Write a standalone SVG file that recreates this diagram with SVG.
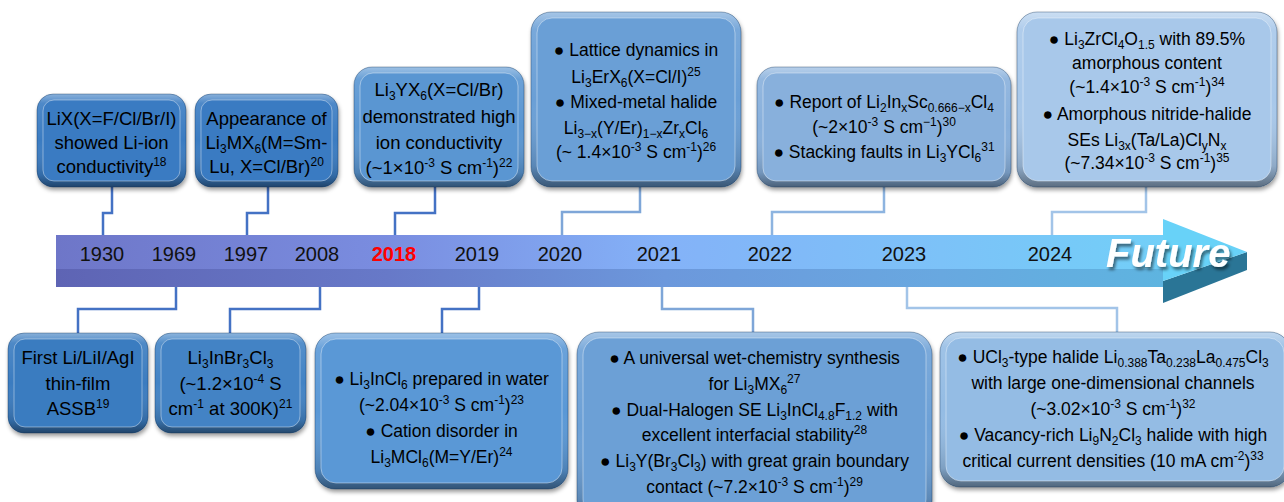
<svg xmlns="http://www.w3.org/2000/svg" width="1284" height="502" viewBox="0 0 1284 502">
<defs>
<style>
.t{font-family:"Liberation Sans",Arial,"DejaVu Sans",sans-serif;font-size:17.5px;fill:#000;text-anchor:middle}
.tl{font-size:18.5px}
.s{font-size:12px;baseline-shift:-4px}
.p{font-size:12px;baseline-shift:7px}
.yr{font-family:"Liberation Sans",Arial,sans-serif;font-size:20px;fill:#111;text-anchor:middle}
.c{fill:none;stroke-width:2.5}
.c1{stroke:#4472C4}
.c2{stroke:#7EA6D8}
.c3{stroke:#8DB4E0}
.c4{stroke:#A2C4E8}
.o{stroke:#0A2A50;stroke-opacity:.35;stroke-width:1}
.in{stroke:#fff;stroke-opacity:.4;stroke-width:1}
</style>
<filter id="sh" x="-10%" y="-10%" width="120%" height="130%">
<feDropShadow dx="1" dy="3" stdDeviation="2" flood-color="#000" flood-opacity=".4"/>
</filter>
<filter id="fs" x="-10%" y="-20%" width="130%" height="150%">
<feDropShadow dx="2" dy="3" stdDeviation="1.5" flood-color="#000" flood-opacity=".5"/>
</filter>
<linearGradient id="bev" x1="0" y1="0" x2="0" y2="1">
<stop offset="0" stop-color="#fff" stop-opacity=".4"/>
<stop offset=".1" stop-color="#fff" stop-opacity=".1"/>
<stop offset=".5" stop-color="#fff" stop-opacity="0"/>
<stop offset=".88" stop-color="#000" stop-opacity=".15"/>
<stop offset="1" stop-color="#000" stop-opacity=".45"/>
</linearGradient>
<linearGradient id="bu" x1="56" y1="0" x2="1163" y2="0" gradientUnits="userSpaceOnUse">
<stop offset="0" stop-color="#6E76C8"/>
<stop offset=".3" stop-color="#7A8DE0"/>
<stop offset=".55" stop-color="#84B2F8"/>
<stop offset=".8" stop-color="#7CC2F8"/>
<stop offset="1" stop-color="#72CFF8"/>
</linearGradient>
<linearGradient id="bl" x1="56" y1="0" x2="1163" y2="0" gradientUnits="userSpaceOnUse">
<stop offset="0" stop-color="#5E64B4"/>
<stop offset=".3" stop-color="#6779C8"/>
<stop offset=".55" stop-color="#6C98DC"/>
<stop offset=".8" stop-color="#68A8E0"/>
<stop offset="1" stop-color="#5EB4E0"/>
</linearGradient>
</defs>
<rect width="1284" height="502" fill="#fff"/>

<g id="timeline">
<rect x="56" y="235" width="1107" height="34" fill="url(#bu)"/>
<rect x="56" y="269" width="1107" height="18" fill="url(#bl)"/>
<polygon points="1163,281 1247,252 1247,270 1163,303" fill="#2A7596"/>
<polygon points="1163,219 1247,252 1163,281" fill="#68D2F8"/>
<text class="yr" x="102" y="261">1930</text>
<text class="yr" x="174" y="261">1969</text>
<text class="yr" x="246" y="261">1997</text>
<text class="yr" x="317" y="261">2008</text>
<text class="yr" x="394" y="261" style="fill:#FF0000;font-weight:bold">2018</text>
<text class="yr" x="477" y="261">2019</text>
<text class="yr" x="560" y="261">2020</text>
<text class="yr" x="659" y="261">2021</text>
<text class="yr" x="770" y="261">2022</text>
<text class="yr" x="904" y="261">2023</text>
<text class="yr" x="1050" y="261">2024</text>
<text x="1106" y="267" filter="url(#fs)" style="font-family:'Liberation Sans',Arial,sans-serif;font-size:40px;font-weight:bold;font-style:italic;fill:#fff">Future</text>
</g>

<g id="connectors">
<path class="c c1" d="M112,187V213H103V235"/>
<path class="c c1" d="M268,187V213H247V235"/>
<path class="c c1" d="M435,187V213H395V235"/>
<path class="c c2" d="M640,187V212H562V235"/>
<path class="c c3" d="M884,187V212H772V235"/>
<path class="c c4" d="M1146,187V212H1052V235"/>
<path class="c c1" d="M176,287V309H78V333"/>
<path class="c c1" d="M320,287V309H230V333"/>
<path class="c c1" d="M479,287V309H442V333"/>
<path class="c c2" d="M662,287V309H753V332"/>
<path class="c c4" d="M907,287V308H1117V332"/>
</g>

<g id="n1930">
<rect x="37" y="94" width="149" height="93" rx="16" fill="#3A7BC2" filter="url(#sh)"/>
<rect x="37" y="94" width="149" height="93" rx="16" fill="url(#bev)" class="o"/>
<rect x="43" y="100" width="137" height="81" rx="11" fill="#3A7BC2" class="in"/>
<text class="t tl" x="111.5" y="125">LiX(X=F/Cl/Br/I)</text>
<text class="t tl" x="111.5" y="149">showed Li-ion</text>
<text class="t tl" x="111.5" y="173">conductivity<tspan class="p">18</tspan></text>
</g>

<g id="n1997">
<rect x="195" y="94" width="143" height="93" rx="16" fill="#3A7BC2" filter="url(#sh)"/>
<rect x="195" y="94" width="143" height="93" rx="16" fill="url(#bev)" class="o"/>
<rect x="201" y="100" width="131" height="81" rx="11" fill="#3A7BC2" class="in"/>
<text class="t tl" x="266.5" y="125">Appearance of</text>
<text class="t tl" x="266.5" y="149">Li<tspan class="s">3</tspan>MX<tspan class="s">6</tspan>(M=Sm-</text>
<text class="t tl" x="266.5" y="173">Lu, X=Cl/Br)<tspan class="p">20</tspan></text>
</g>

<g id="n2018">
<rect x="354" y="67" width="170" height="120" rx="18" fill="#5A96D2" filter="url(#sh)"/>
<rect x="354" y="67" width="170" height="120" rx="18" fill="url(#bev)" class="o"/>
<rect x="360" y="73" width="158" height="108" rx="13" fill="#5A96D2" class="in"/>
<text class="t tl" x="439" y="96">Li<tspan class="s">3</tspan>YX<tspan class="s">6</tspan>(X=Cl/Br)</text>
<text class="t tl" x="439" y="123">demonstrated high</text>
<text class="t tl" x="439" y="149">ion conductivity</text>
<text class="t tl" x="439" y="174">(~1×10<tspan class="p">-3</tspan> S cm<tspan class="p">-1</tspan>)<tspan class="p">22</tspan></text>
</g>

<g id="n2020">
<rect x="531" y="12" width="210" height="175" rx="20" fill="#6A9FD6" filter="url(#sh)"/>
<rect x="531" y="12" width="210" height="175" rx="20" fill="url(#bev)" class="o"/>
<rect x="537" y="18" width="198" height="163" rx="15" fill="#6A9FD6" class="in"/>
<text class="t" x="636" y="56">● Lattice dynamics in</text>
<text class="t" x="636" y="83">Li<tspan class="s">3</tspan>ErX<tspan class="s">6</tspan>(X=Cl/I)<tspan class="p">25</tspan></text>
<text class="t" x="636" y="108">● Mixed-metal halide</text>
<text class="t" x="636" y="134">Li<tspan class="s">3−x</tspan>(Y/Er)<tspan class="s">1−x</tspan>Zr<tspan class="s">x</tspan>Cl<tspan class="s">6</tspan></text>
<text class="t" x="636" y="158">(~ 1.4×10<tspan class="p">-3</tspan> S cm<tspan class="p">-1</tspan>)<tspan class="p">26</tspan></text>
</g>

<g id="n2022">
<rect x="757" y="67" width="254" height="120" rx="18" fill="#88B0DC" filter="url(#sh)"/>
<rect x="757" y="67" width="254" height="120" rx="18" fill="url(#bev)" class="o"/>
<rect x="763" y="73" width="242" height="108" rx="13" fill="#88B0DC" class="in"/>
<text class="t" x="884" y="108">● Report of Li<tspan class="s">2</tspan>In<tspan class="s">x</tspan>Sc<tspan class="s">0.666−x</tspan>Cl<tspan class="s">4</tspan></text>
<text class="t" x="884" y="133">(~2×10<tspan class="p">-3</tspan> S cm<tspan class="p">−1</tspan>)<tspan class="p">30</tspan></text>
<text class="t" x="884" y="158">● Stacking faults in Li<tspan class="s">3</tspan>YCl<tspan class="s">6</tspan><tspan class="p">31</tspan></text>
</g>

<g id="n2024">
<rect x="1017" y="12" width="260" height="175" rx="20" fill="#A8C8EA" filter="url(#sh)"/>
<rect x="1017" y="12" width="260" height="175" rx="20" fill="url(#bev)" class="o"/>
<rect x="1023" y="18" width="248" height="163" rx="15" fill="#A8C8EA" class="in"/>
<text class="t" x="1147" y="45">● Li<tspan class="s">3</tspan>ZrCl<tspan class="s">4</tspan>O<tspan class="s">1.5</tspan> with 89.5%</text>
<text class="t" x="1147" y="69">amorphous content</text>
<text class="t" x="1147" y="93">(~1.4×10<tspan class="p">-3</tspan> S cm<tspan class="p">-1</tspan>)<tspan class="p">34</tspan></text>
<text class="t" x="1147" y="120">● Amorphous nitride-halide</text>
<text class="t" x="1147" y="146">SEs Li<tspan class="s">3x</tspan>(Ta/La)Cl<tspan class="s">y</tspan>N<tspan class="s">x</tspan></text>
<text class="t" x="1147" y="169">(~7.34×10<tspan class="p">-3</tspan> S cm<tspan class="p">-1</tspan>)<tspan class="p">35</tspan></text>
</g>

<g id="n1969">
<rect x="8" y="333" width="140" height="100" rx="16" fill="#3A7CC0" filter="url(#sh)"/>
<rect x="8" y="333" width="140" height="100" rx="16" fill="url(#bev)" class="o"/>
<rect x="14" y="339" width="128" height="88" rx="11" fill="#3A7CC0" class="in"/>
<text class="t tl" x="78" y="364">First Li/LiI/AgI</text>
<text class="t tl" x="78" y="390">thin-film</text>
<text class="t tl" x="78" y="415">ASSB<tspan class="p">19</tspan></text>
</g>

<g id="n2008">
<rect x="155" y="333" width="151" height="100" rx="16" fill="#4383C5" filter="url(#sh)"/>
<rect x="155" y="333" width="151" height="100" rx="16" fill="url(#bev)" class="o"/>
<rect x="161" y="339" width="139" height="88" rx="11" fill="#4383C5" class="in"/>
<text class="t tl" x="230.5" y="364">Li<tspan class="s">3</tspan>InBr<tspan class="s">3</tspan>Cl<tspan class="s">3</tspan></text>
<text class="t tl" x="230.5" y="390">(~1.2×10<tspan class="p">-4</tspan> S</text>
<text class="t tl" x="230.5" y="415">cm<tspan class="p">-1</tspan> at 300K)<tspan class="p">21</tspan></text>
</g>

<g id="n2019">
<rect x="315" y="333" width="253" height="156" rx="20" fill="#5A98D6" filter="url(#sh)"/>
<rect x="315" y="333" width="253" height="156" rx="20" fill="url(#bev)" class="o"/>
<rect x="321" y="339" width="241" height="144" rx="15" fill="#5A98D6" class="in"/>
<text class="t" x="441.5" y="385">● Li<tspan class="s">3</tspan>InCl<tspan class="s">6</tspan> prepared in water</text>
<text class="t" x="441.5" y="411">(~2.04×10<tspan class="p">-3</tspan> S cm<tspan class="p">-1</tspan>)<tspan class="p">23</tspan></text>
<text class="t" x="441.5" y="437">● Cation disorder in</text>
<text class="t" x="441.5" y="463">Li<tspan class="s">3</tspan>MCl<tspan class="s">6</tspan>(M=Y/Er)<tspan class="p">24</tspan></text>
</g>

<g id="n2021">
<rect x="577" y="332" width="355" height="190" rx="22" fill="#6CA0D6" filter="url(#sh)"/>
<rect x="577" y="332" width="355" height="190" rx="22" fill="url(#bev)" class="o"/>
<rect x="583" y="338" width="343" height="178" rx="17" fill="#6CA0D6" class="in"/>
<text class="t" x="754.5" y="364">● A universal wet-chemistry synthesis</text>
<text class="t" x="754.5" y="390">for Li<tspan class="s">3</tspan>MX<tspan class="s">6</tspan><tspan class="p">27</tspan></text>
<text class="t" x="754.5" y="416">● Dual-Halogen SE Li<tspan class="s">3</tspan>InCl<tspan class="s">4.8</tspan>F<tspan class="s">1.2</tspan> with</text>
<text class="t" x="754.5" y="441">excellent interfacial stability<tspan class="p">28</tspan></text>
<text class="t" x="754.5" y="467">● Li<tspan class="s">3</tspan>Y(Br<tspan class="s">3</tspan>Cl<tspan class="s">3</tspan>) with great grain boundary</text>
<text class="t" x="754.5" y="493">contact (~7.2×10<tspan class="p">-3</tspan> S cm<tspan class="p">-1</tspan>)<tspan class="p">29</tspan></text>
</g>

<g id="n2023">
<rect x="940" y="332" width="350" height="155" rx="20" fill="#94BCE4" filter="url(#sh)"/>
<rect x="940" y="332" width="350" height="155" rx="20" fill="url(#bev)" class="o"/>
<rect x="946" y="338" width="338" height="143" rx="15" fill="#94BCE4" class="in"/>
<text class="t" x="1113" y="363">● UCl<tspan class="s">3</tspan>-type halide Li<tspan class="s">0.388</tspan>Ta<tspan class="s">0.238</tspan>La<tspan class="s">0.475</tspan>Cl<tspan class="s">3</tspan></text>
<text class="t" x="1113" y="389">with large one-dimensional channels</text>
<text class="t" x="1113" y="415">(~3.02×10<tspan class="p">-3</tspan> S cm<tspan class="p">-1</tspan>)<tspan class="p">32</tspan></text>
<text class="t" x="1113" y="441">● Vacancy-rich Li<tspan class="s">9</tspan>N<tspan class="s">2</tspan>Cl<tspan class="s">3</tspan> halide with high</text>
<text class="t" x="1113" y="467">critical current densities (10 mA cm<tspan class="p">-2</tspan>)<tspan class="p">33</tspan></text>
</g>
</svg>
